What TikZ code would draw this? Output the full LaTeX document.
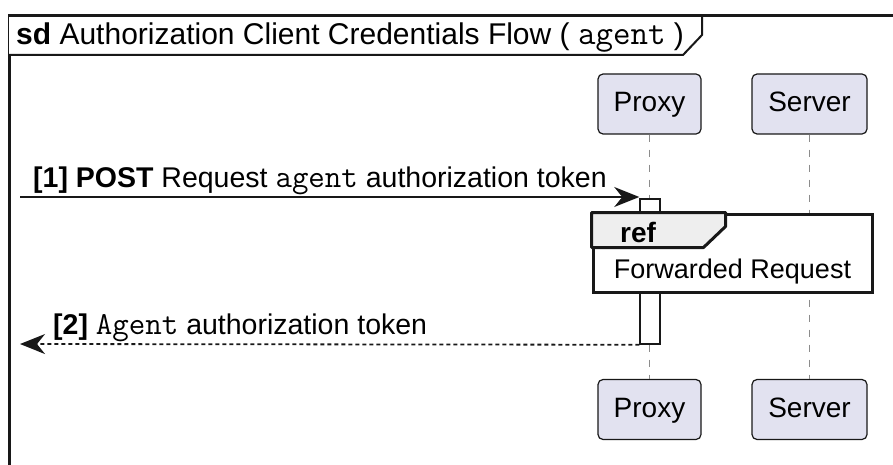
\documentclass[tikz,border=0pt]{standalone}
\usepackage{fontspec}
\setmainfont{Liberation Sans}
\usetikzlibrary{arrows.meta,positioning}
\definecolor{umlline}{HTML}{181818}
\definecolor{umlfill}{HTML}{E2E2F0}
\definecolor{umltab}{HTML}{EEEEEE}
\definecolor{lifegray}{HTML}{8C8C8C}
% monospaced bits inside labels, at a given size
\newcommand{\code}[2]{{\ttfamily\fontsize{#1}{#1}\selectfont #2}}
\tikzset{
  frameline/.style={line width=3pt,umlline},
  tabline/.style={draw=umlline,line width=2pt,fill=white},
  participant/.style={draw=umlline,fill=umlfill,line width=1.2pt,rounded corners=5pt,
    minimum width=103pt,minimum height=60pt,inner sep=0pt,text height=21pt,text depth=6pt,
    font=\fontsize{28}{32}\selectfont},
  lifeline/.style={lifegray,line width=1.5pt,dash pattern=on 7pt off 8pt},
  activation/.style={draw=umlline,fill=white,line width=1.5pt,minimum width=20pt,
    minimum height=145pt,inner sep=0pt},
  msg/.style={-{Stealth[length=25pt,width=20pt,inset=8pt]},umlline,line width=1.8pt},
  reply/.style={msg,dash pattern=on 4pt off 3pt},
  msglabel/.style={inner sep=0pt,anchor=base west,font=\fontsize{28.5}{30}\selectfont},
  refbox/.style={draw=umlline,fill=white,line width=3pt,minimum width=279pt,
    minimum height=78pt,inner sep=0pt},
  reftab/.style={draw=umlline,fill=umltab,line width=3pt,line join=round}
}

\begin{document}
\begin{tikzpicture}[x=1pt,y=-1pt]
  \useasboundingbox (0,0) rectangle (893,465);
  \clip (0,0) rectangle (893,465);

  % outer sd frame and its title tab
  \draw[frameline] (9,480) -- (9,16) -- (910,16);
  \draw[tabline] (9,16) -- (702,16) -- (702,35) -- (683,55) -- (9,55);
  \node[anchor=base west,inner sep=0pt,font=\fontsize{30}{32}\selectfont] (title) at (16,45)
    {\textbf{sd} Authorization Client Credentials Flow ( \code{34}{agent} )};

  % participants, top and bottom
  \node[participant] (proxyTop) at (649.5,104) {Proxy};
  \node[participant,minimum width=115pt] (serverTop) at (809.5,104) {Server};
  \node[participant] (proxyBot) at (649.5,409.5) {Proxy};
  \node[participant,minimum width=115pt] (serverBot) at (809.5,409.5) {Server};
  \draw[lifeline] (proxyTop.south) -- (proxyBot.north);
  \draw[lifeline] (serverTop.south) -- (serverBot.north);

  % activation on the proxy
  \node[activation] (act) at (650,271.5) {};

  % incoming request
  \coordinate (in1) at (20,197);
  \draw[msg] (in1) -- (in1 -| act.west);
  \node[msglabel] (lbl1) at (33,187)
    {\textbf{[1] POST} Request \code{32}{agent} authorization token};

  % forwarded request reference
  \node[refbox] (ref) at (732.5,253) {};
  \draw[reftab] (ref.north west) -- ++(134,0) -- ++(0,14) -- ++(-22,21) -- ++(-112,0) -- cycle;
  \node[msglabel,font=\bfseries\fontsize{28}{30}\selectfont] (refname) at (620,242) {ref};
  \node[msglabel,anchor=base,font=\fontsize{27}{28}\selectfont] (reftext) at (732.5,278)
    {Forwarded Request};

  % reply back to the caller
  \coordinate (out2) at (20,344);
  \draw[reply] (act.south west) -- (out2);
  \node[msglabel] (lbl2) at (53,334)
    {\textbf{[2]} \code{32}{Agent} authorization token};
\end{tikzpicture}
\end{document}
